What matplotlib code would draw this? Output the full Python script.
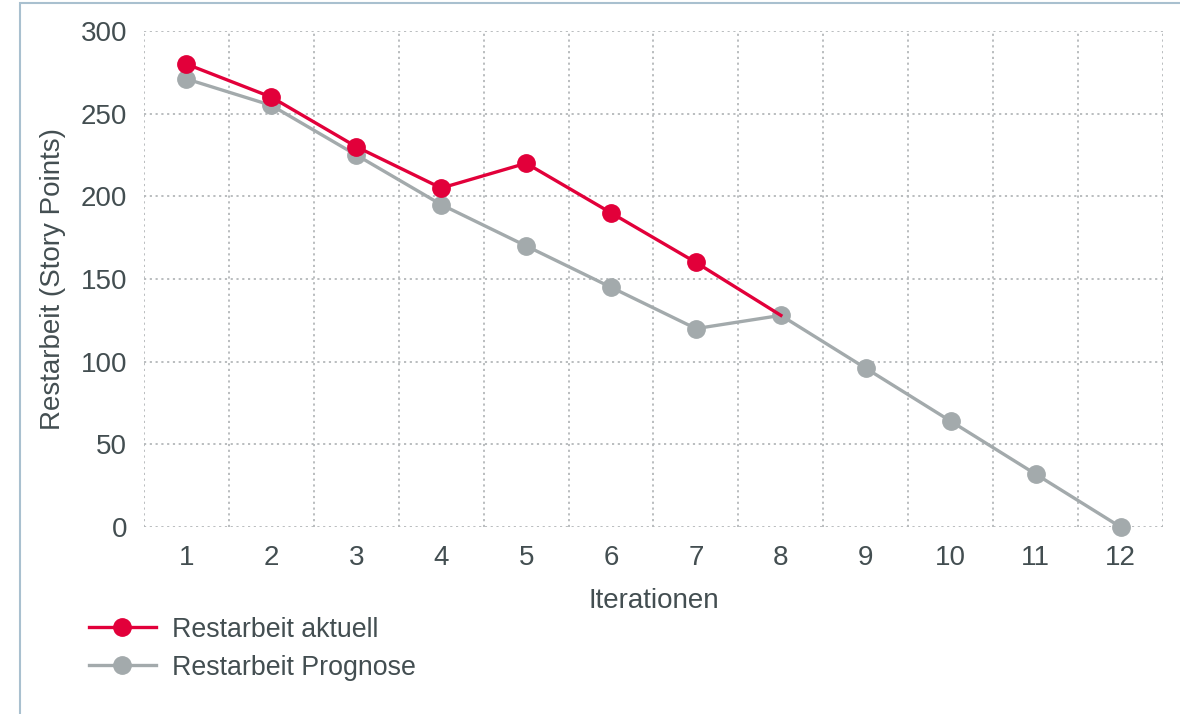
import matplotlib
matplotlib.use("Agg")
from matplotlib import pyplot as plt
from matplotlib.patches import Rectangle

# Daten
iterationen = [1, 2, 3, 4, 5, 6, 7, 8, 9, 10, 11, 12]
aktuell = [280, 260, 230, 205, 220, 190, 160, 128]
prognose = [271, 255, 225, 195, 170, 145, 120, 128, 96, 64, 32, 0]
y_ticks = [0, 50, 100, 150, 200, 250, 300]

rot = "#e2003a"
grau = "#a3aaac"
text_farbe = "#434e51"
gitter = "#b4b8ba"
fs = 20

plt.rcParams["font.family"] = ["Liberation Sans", "DejaVu Sans"]

fig = plt.figure(figsize=(11.8, 7.14), dpi=100)
fig.patches.append(Rectangle((20 / 1180, -0.05), 1.2, 1 - 3 / 714 + 0.05,
                             transform=fig.transFigure, fill=False,
                             edgecolor="#a9c0cf", linewidth=1.5))

ax = fig.add_axes([144 / 1180, 1 - 527 / 714, (1163 - 144) / 1180, (527 - 31) / 714])

ax.plot(iterationen, prognose, color=grau, linewidth=2.4, marker="o",
        markersize=12.5, label="Restarbeit Prognose", zorder=3, clip_on=False)
ax.plot(iterationen[:len(aktuell)], aktuell, color=rot, linewidth=2.4, marker="o",
        markersize=12.5, markevery=list(range(7)), label="Restarbeit aktuell",
        zorder=4, clip_on=False)

ax.set_xlim(0.5, 12.5)
ax.set_ylim(0, 300)
ax.set_xticks(iterationen)
ax.set_xticks([i + 0.5 for i in range(0, 13)], minor=True)
ax.set_yticks(y_ticks)
ax.grid(False)
ax.grid(True, which="minor", axis="x", linestyle=(0, (1.2, 2)), color=gitter, linewidth=1.3)
ax.grid(True, which="major", axis="y", linestyle=(0, (1.2, 2)), color=gitter, linewidth=1.3)
for s in ax.spines.values():
    s.set_visible(False)
ax.tick_params(which="both", length=0, labelsize=fs, colors=text_farbe)
ax.tick_params(axis="y", pad=12)
ax.tick_params(axis="x", pad=13)

ax.set_ylabel("Restarbeit (Story Points)", fontsize=fs, color=text_farbe)
ax.yaxis.set_label_coords(-(144 - 66) / 1019, 0.5)
ax.set_xlabel("Iterationen", fontsize=fs, color=text_farbe)
ax.xaxis.set_label_coords(0.5, -(588 - 527) / 496)

h, l = ax.get_legend_handles_labels()
leg = fig.legend([h[1], h[0]], [l[1], l[0]], loc="upper left",
                 bbox_to_anchor=(78 / 1180, 1 - 606 / 714), frameon=False,
                 fontsize=19.3, handlelength=2.5, handletextpad=0.6,
                 labelspacing=0.45, borderaxespad=0)
for t in leg.get_texts():
    t.set_color(text_farbe)

fig.savefig("out.png", dpi=100)
